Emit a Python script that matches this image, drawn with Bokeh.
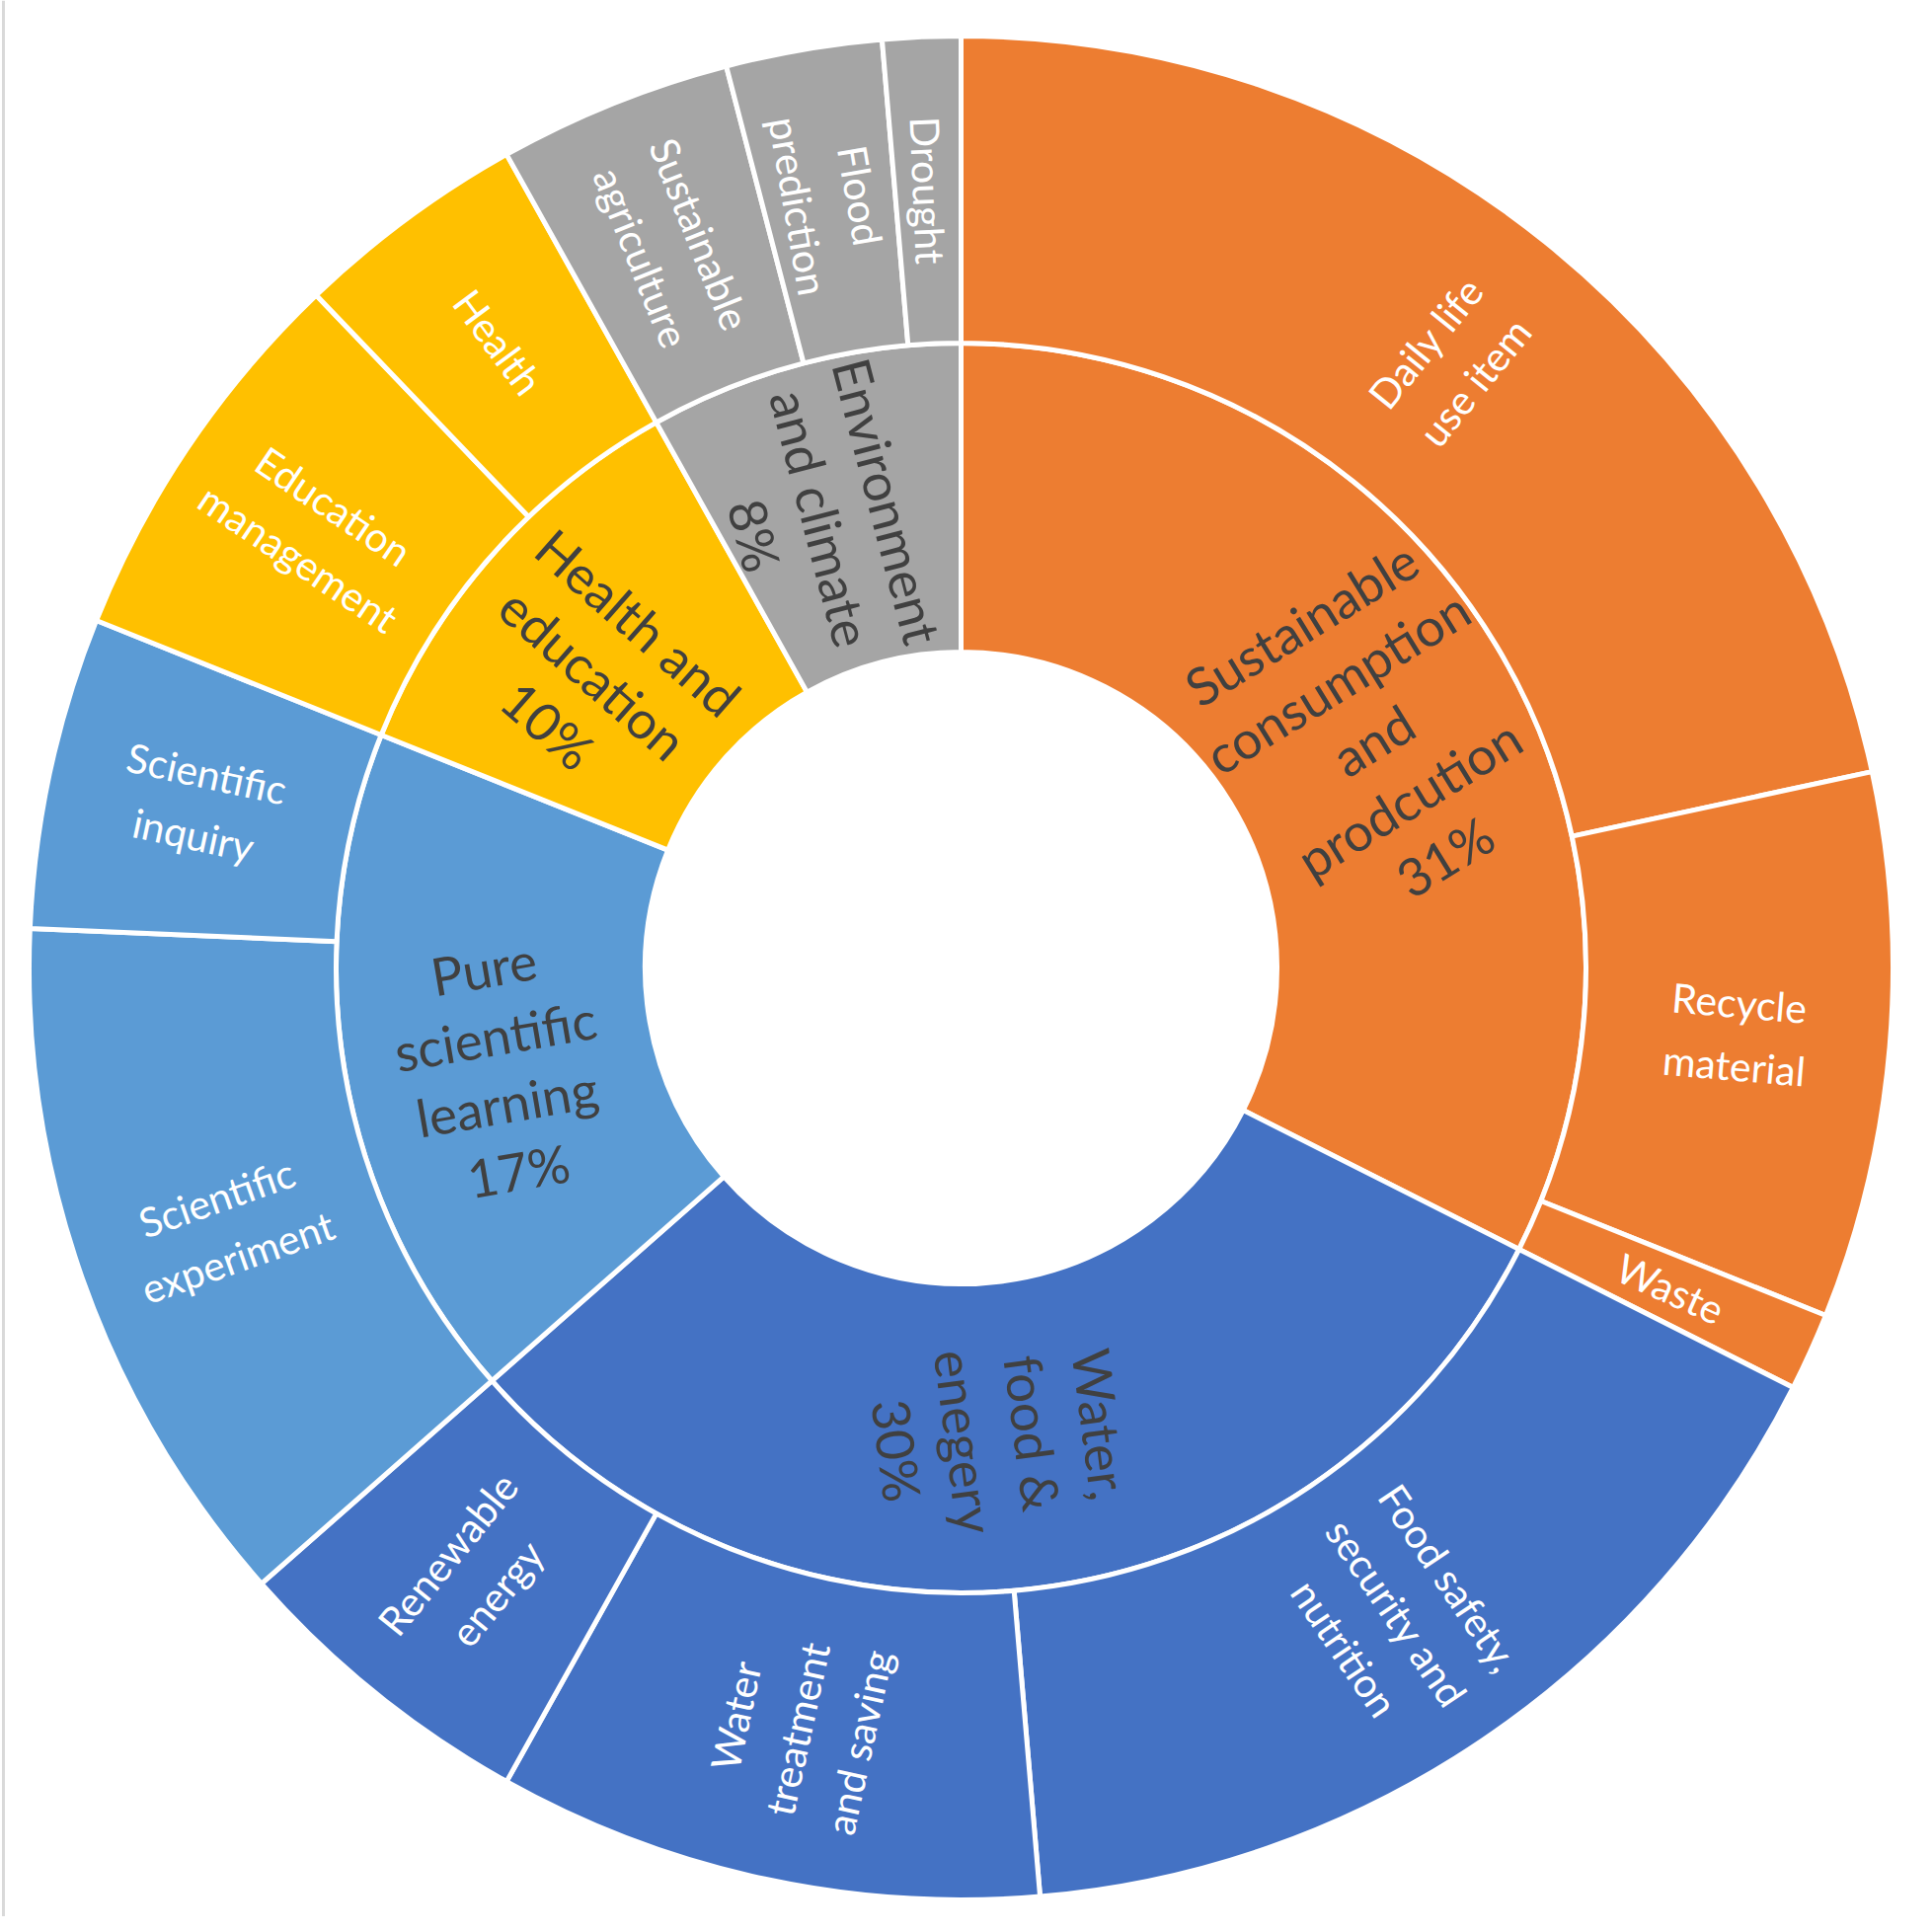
import numpy as np
from bokeh.plotting import figure
from bokeh.models import Range1d, ColumnDataSource
from bokeh.embed import file_html
from bokeh.resources import INLINE
from bokeh.core.properties import value

# ---- data ----
inner_names = ["Sustainable\nconsumption\nand\nprodcution", "Water,\nfood &\nenegery",
               "Pure\nscientific\nlearning", "Health and\neducation", "Environment\nand climate"]
inner_pct = ["31%", "30%", "17%", "10%", "8%"]
inner_colors = ["#ED7D31", "#4472C4", "#5B9BD5", "#FFC000", "#A5A5A5"]

outer_names = ["Daily life\nuse item", "Recycle\nmaterial", "Waste",
               "Food safety,\nsecurity and\nnutrition", "Water\ntreatment\nand saving", "Renewable\nenergy",
               "Scientific\nexperiment", "Scientific\ninquiry",
               "Education\nmanagement", "Health",
               "Sustainable\nagriculture", "Flood\nprediction", "Drought"]
outer_parent = [0, 0, 0, 1, 1, 1, 2, 2, 3, 3, 4, 4, 4]
outer_counts = [16, 7, 1, 12, 7, 4, 9, 4, 5, 3, 3, 2, 1]

# ---- geometry ----
W = H = 1941
cx, cy = 973, H - 980
r_hole, r_mid, r_out = 320, 633, 944

inner_counts = [sum(c for c, pa in zip(outer_counts, outer_parent) if pa == i) for i in range(len(inner_names))]


def ring(counts):
    tot = float(sum(counts))
    fr = np.array(counts) / tot * 2 * np.pi
    th_end = np.cumsum(fr)
    th_start = th_end - fr
    th_mid = (th_start + th_end) / 2
    return th_start, th_end, th_mid


def text_angle(th):
    phi = np.pi / 2 - th
    out = []
    for a in phi:
        if np.cos(a) < -1e-9:
            a = a + np.pi
        out.append(a)
    return np.array(out)


def label_pos(th, r, ang, shift):
    x = cx + r * np.sin(th) + shift * np.sin(ang)
    y = cy + r * np.cos(th) - shift * np.cos(ang)
    return list(x), list(y)


p = figure(width=W, height=H, x_range=Range1d(0, W), y_range=Range1d(0, H),
           output_backend="svg", toolbar_location=None, min_border=0)
p.axis.visible = False
p.grid.visible = False
p.outline_line_color = None
p.background_fill_color = "white"
p.border_fill_color = "white"

# thin grey frame line at the left edge
p.segment(x0=[3], y0=[0], x1=[3], y1=[H], line_color="#D9D9D9", line_width=3)

# inner ring
s0, e0, m0 = ring(inner_counts)
a0 = text_angle(m0)
tx0, ty0 = label_pos(m0, (r_hole + r_mid) / 2, a0, 22)
src_in = ColumnDataSource(dict(
    x=[cx] * len(inner_counts), y=[cy] * len(inner_counts),
    start=list(np.pi / 2 - e0), end=list(np.pi / 2 - s0), color=inner_colors,
    tx=tx0, ty=ty0, ang=list(a0),
    label=[n + "\n" + pc for n, pc in zip(inner_names, inner_pct)]))
p.annular_wedge(x="x", y="y", inner_radius=r_hole, outer_radius=r_mid, start_angle="start",
                end_angle="end", fill_color="color", line_color="white", line_width=5, source=src_in)

# outer ring
s1, e1, m1 = ring(outer_counts)
a1 = text_angle(m1)
tx1, ty1 = label_pos(m1, (r_mid + r_out) / 2, a1, 0)
src_out = ColumnDataSource(dict(
    x=[cx] * len(outer_counts), y=[cy] * len(outer_counts),
    start=list(np.pi / 2 - e1), end=list(np.pi / 2 - s1),
    color=[inner_colors[i] for i in outer_parent],
    tx=tx1, ty=ty1, ang=list(a1), label=outer_names))
p.annular_wedge(x="x", y="y", inner_radius=r_mid, outer_radius=r_out, start_angle="start",
                end_angle="end", fill_color="color", line_color="white", line_width=5, source=src_out)

p.text(x="tx", y="ty", text="label", angle="ang", source=src_in, text_align="center",
       text_baseline="middle", text_font=value("Lato"), text_font_size="53px",
       text_color="#404040", text_line_height=1.1)
p.text(x="tx", y="ty", text="label", angle="ang", source=src_out, text_align="center",
       text_baseline="middle", text_font=value("Lato"), text_font_size="41px",
       text_color="white", text_line_height=1.3)

open("out.html", "w").write(file_html(p, INLINE))
